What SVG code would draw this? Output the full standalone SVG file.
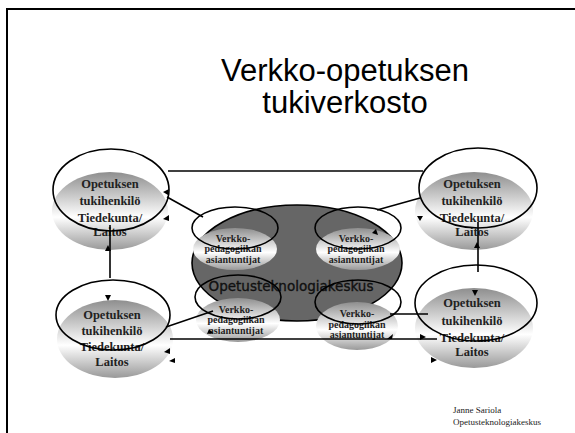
<svg xmlns="http://www.w3.org/2000/svg" width="575" height="433" viewBox="0 0 575 433">
<defs>
<linearGradient id="shade" x1="0" y1="0" x2="0" y2="1">
<stop offset="0" stop-color="#8e8e8e"/>
<stop offset="0.58" stop-color="#ffffff"/>
<stop offset="1" stop-color="#999999"/>
</linearGradient>
</defs>
<style>
.frame{fill:none;stroke:#000;stroke-width:2}
.title{font-family:"Liberation Sans",Arial,sans-serif;font-size:31px;fill:#000;text-anchor:middle}
.shade{fill:url(#shade);stroke:none}
.ring{fill:none;stroke:#000;stroke-width:1.6}
.big{font-family:"Liberation Serif","Times New Roman",serif;font-weight:bold;font-size:12.5px;fill:#222;text-anchor:middle}
.small{font-family:"Liberation Serif","Times New Roman",serif;font-weight:bold;font-size:10px;fill:#222;text-anchor:middle}
.core{fill:#666;stroke:#000;stroke-width:1.6}
.coretext{font-family:"DejaVu Sans",Verdana,sans-serif;font-size:13.5px;fill:#111;stroke:#111;stroke-width:0.35;text-anchor:middle}
.link{stroke:#000;stroke-width:1.6;fill:none}
.head{fill:#000}
.foot{font-family:"Liberation Serif","Times New Roman",serif;font-size:9px;fill:#222}
</style>
<path class="frame" d="M7,433 V9 H575"/>
<g id="title">
<text class="title" x="345" y="81">Verkko-opetuksen</text>
<text class="title" x="345" y="113">tukiverkosto</text>
</g>
<g id="center">
<ellipse class="core" cx="297" cy="263" rx="105" ry="58"/>
</g>
<g id="node-tl">
<ellipse class="shade" cx="110" cy="211" rx="58" ry="39"/>
<text class="big" x="110" y="188">Opetuksen</text>
<text class="big" x="110" y="205">tukihenkilö</text>
<text class="big" x="110" y="222">Tiedekunta/</text>
<text class="big" x="110" y="236">Laitos</text>
<ellipse class="ring" cx="111" cy="190" rx="58" ry="41"/>
</g>
<g id="node-tr">
<ellipse class="shade" cx="474" cy="211" rx="59" ry="39"/>
<text class="big" x="472" y="188">Opetuksen</text>
<text class="big" x="472" y="205">tukihenkilö</text>
<text class="big" x="472" y="222">Tiedekunta/</text>
<text class="big" x="472" y="236">Laitos</text>
<ellipse class="ring" cx="478" cy="188" rx="59" ry="40"/>
</g>
<g id="node-bl">
<ellipse class="shade" cx="115" cy="339" rx="58" ry="39"/>
<text class="big" x="112" y="319">Opetuksen</text>
<text class="big" x="112" y="335">tukihenkilö</text>
<text class="big" x="112" y="351">Tiedekunta/</text>
<text class="big" x="112" y="366">Laitos</text>
<ellipse class="ring" cx="113" cy="315" rx="57" ry="35"/>
</g>
<g id="node-br">
<ellipse class="shade" cx="474" cy="328" rx="59" ry="40"/>
<text class="big" x="472" y="307">Opetuksen</text>
<text class="big" x="472" y="325">tukihenkilö</text>
<text class="big" x="472" y="342">Tiedekunta/</text>
<text class="big" x="472" y="356">Laitos</text>
<ellipse class="ring" cx="476" cy="303" rx="61" ry="38"/>
</g>
<g id="expert-tl">
<ellipse class="shade" cx="235" cy="249" rx="42" ry="21"/>
<text class="small" x="233" y="242">Verkko-</text>
<text class="small" x="233" y="252">pedagogiikan</text>
<text class="small" x="233" y="263">asiantuntijat</text>
<ellipse class="ring" cx="235" cy="228" rx="43" ry="21"/>
</g>
<g id="expert-tr">
<ellipse class="shade" cx="358" cy="249" rx="42" ry="21"/>
<text class="small" x="356" y="242">Verkko-</text>
<text class="small" x="356" y="252">pedagogiikan</text>
<text class="small" x="356" y="263">asiantuntijat</text>
<ellipse class="ring" cx="358" cy="228" rx="43" ry="21"/>
</g>
<g id="center-label">
<text class="coretext" x="291" y="291">Opetusteknologiakeskus</text>
</g>
<g id="expert-bl">
<ellipse class="shade" cx="238" cy="320" rx="42" ry="22"/>
<text class="small" x="236" y="313">Verkko-</text>
<text class="small" x="236" y="323">pedagogiikan</text>
<text class="small" x="236" y="334">asiantuntijat</text>
<ellipse class="ring" cx="238" cy="297" rx="43" ry="22"/>
</g>
<g id="expert-br">
<ellipse class="shade" cx="357" cy="326" rx="41" ry="24"/>
<text class="small" x="357" y="317">Verkko-</text>
<text class="small" x="357" y="328">pedagogiikan</text>
<text class="small" x="357" y="338">asiantuntijat</text>
<ellipse class="ring" cx="358" cy="302" rx="43" ry="22"/>
</g>
<g id="connectors">
<line class="link" x1="168" y1="171" x2="423" y2="171"/>
<line class="link" x1="167" y1="197" x2="203" y2="217"/>
<line class="link" x1="110" y1="225" x2="110" y2="278"/>
<line class="link" x1="377" y1="210" x2="420" y2="198"/>
<line class="link" x1="478" y1="222" x2="478" y2="272"/>
<line class="link" x1="166" y1="327" x2="213" y2="311"/>
<line class="link" x1="170" y1="339" x2="437" y2="339"/>
<line class="link" x1="390" y1="314" x2="428" y2="314"/>
<path class="head" d="M163,192 L169,189 L168,195 Z"/>
<path class="head" d="M163,219 L169,215 L169,221 Z"/>
<path class="head" d="M108,245 L105,251 L111,251 Z"/>
<path class="head" d="M108,301 L105,295 L111,295 Z"/>
<path class="head" d="M417,216 L423,216 L420,221 Z"/>
<path class="head" d="M378,235 L372,233 L376,229 Z"/>
<path class="head" d="M477,242 L474,248 L480,248 Z"/>
<path class="head" d="M475,296 L472,290 L478,290 Z"/>
<path class="head" d="M164,352 L170,348 L170,354 Z"/>
<path class="head" d="M169,361 L175,358 L175,363 Z"/>
<path class="head" d="M207,334 L213,333 L209,329 Z"/>
<path class="head" d="M393,334 L392,339 L387,339 Z"/>
<path class="head" d="M426,337 L420,334 L420,340 Z"/>
<path class="head" d="M437,360 L431,357 L431,363 Z"/>
</g>
<g id="footer">
<text class="foot" x="453" y="413">Janne Sariola</text>
<text class="foot" x="453" y="425">Opetusteknologiakeskus</text>
</g>
</svg>
